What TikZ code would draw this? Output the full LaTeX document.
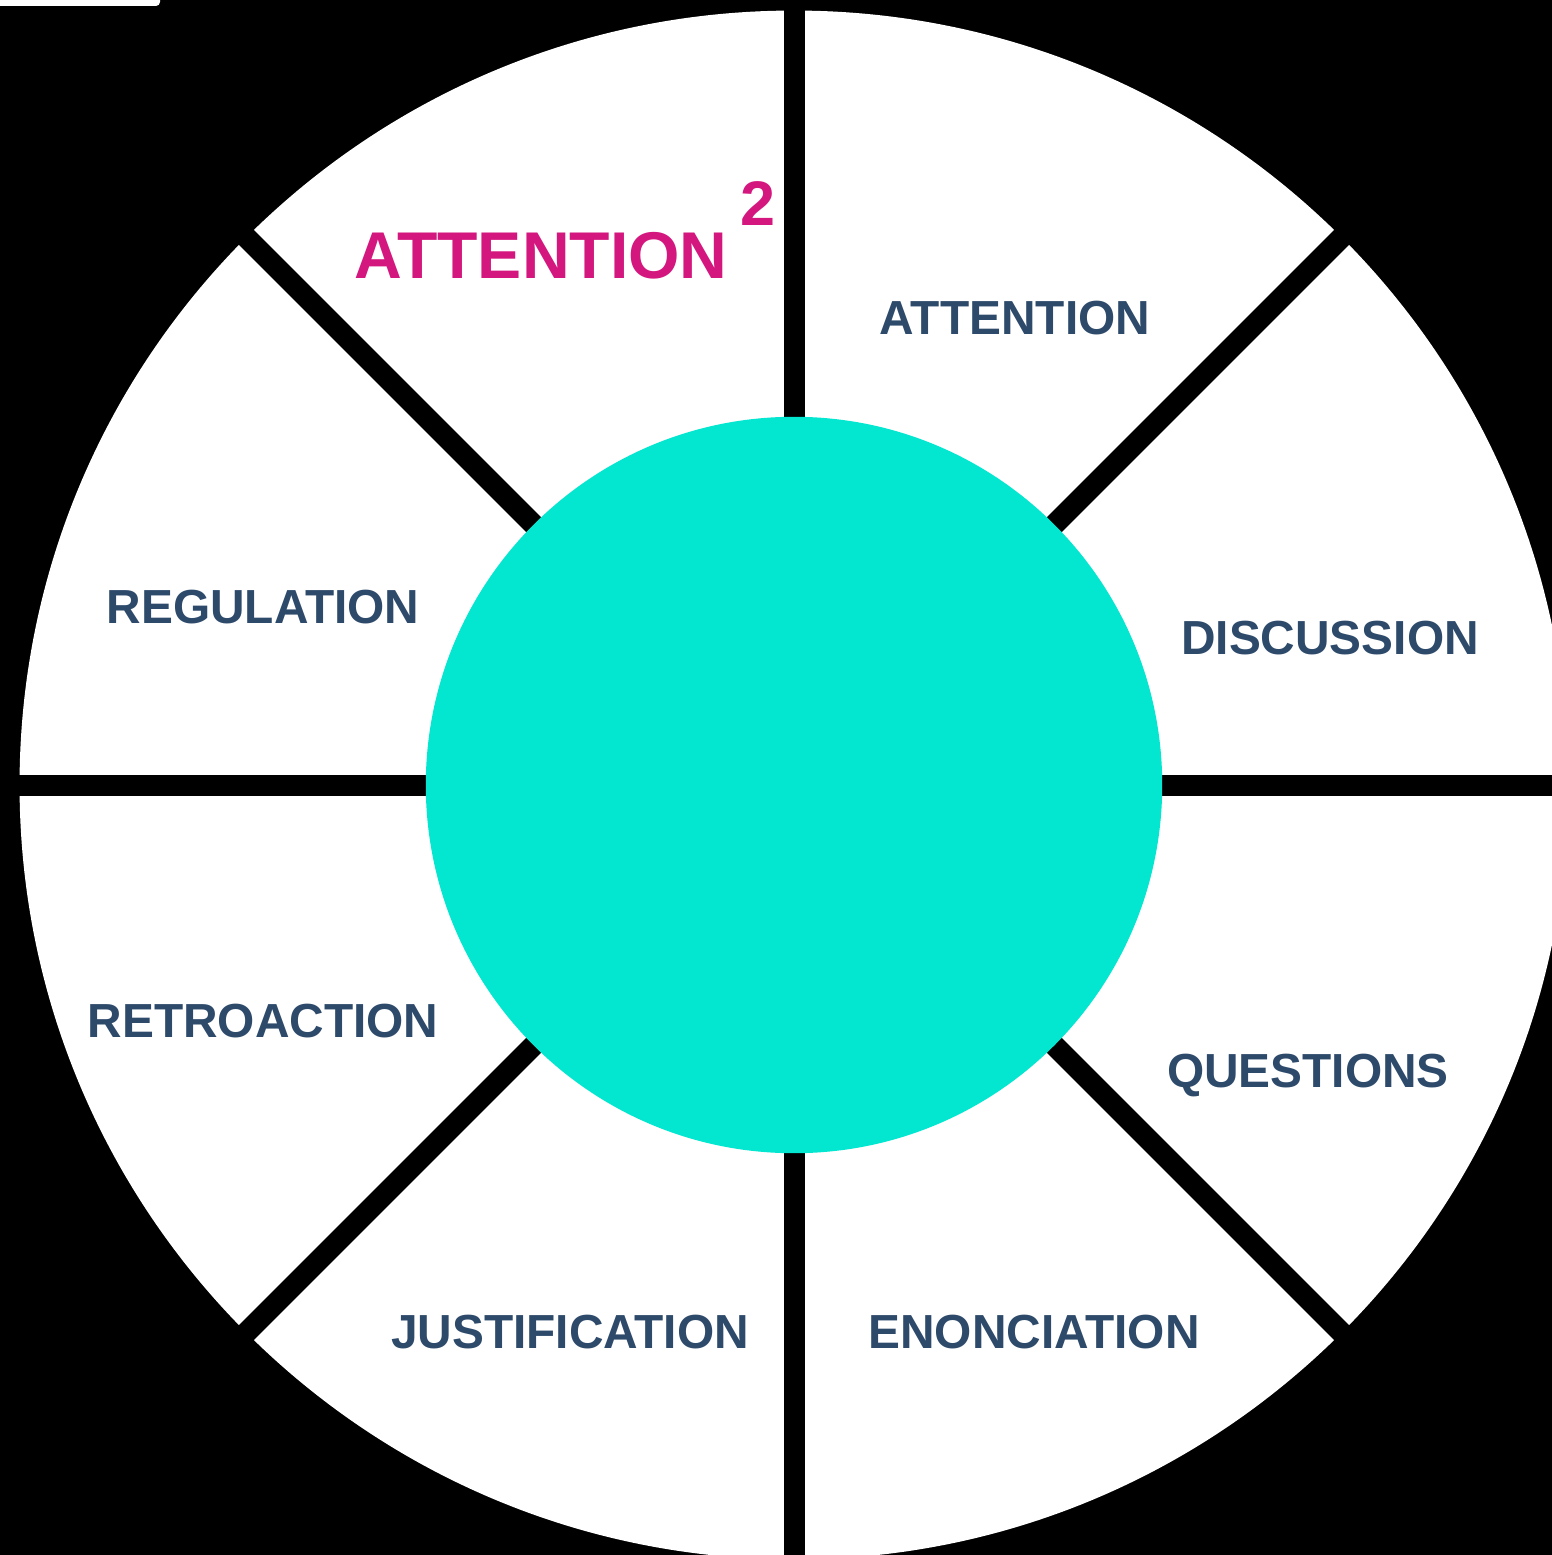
\documentclass[tikz,border=0pt]{standalone}
\usepackage{fontspec}
\setmainfont{Liberation Sans}
\usetikzlibrary{positioning}
\definecolor{ink}{HTML}{2E4A6B}
\definecolor{hot}{HTML}{D4177E}
\definecolor{core}{HTML}{03E6D0}

\begin{document}
\begin{tikzpicture}[x=0.01cm,y=-0.01cm, lab/.style={font=\fontsize{13.6pt}{16pt}\selectfont\bfseries,text=ink,inner sep=0pt,anchor=base}, big/.style={lab,text=hot,font=\fontsize{18.8pt}{22pt}\selectfont\bfseries}, spoke/.style={line width=0.21cm,black}]
  \useasboundingbox (0,0) rectangle (1552,1555);
  \clip (0,0) rectangle (1552,1555);
  \fill[black] (0,0) rectangle (1552,1555);
  \fill[white,rounded corners=0.4mm] (-20,-20) rectangle (160,6);
  \coordinate (c) at (794,785);
  \fill[white] (c) circle[radius=7.74cm];
  % eight spokes, then the hub on top
  \foreach \a in {0,45,...,315}{\draw[spoke] (c) -- ++(\a:8cm);}
  \node[circle,fill=core,inner sep=0pt,minimum size=7.36cm] (hub) at (c) {};
  \node[big] (att2) at (541,279) {ATTENTION};
  \node[big,font=\fontsize{17.9pt}{21pt}\selectfont\bfseries] (sq) at (758,226) {2};
  \node[lab] (att) at (1015,335) {ATTENTION};
  \node[lab] (disc) at (1330,654) {DISCUSSION};
  \node[lab] (ques) at (1308,1087) {QUESTIONS};
  \node[lab] (enon) at (1034,1348) {ENONCIATION};
  \node[lab] (just) at (570,1348) {JUSTIFICATION};
  \node[lab] (retro) at (263,1037) {RETROACTION};
  \node[lab] (regl) at (263,623) {REGULATION};
\end{tikzpicture}
\end{document}
